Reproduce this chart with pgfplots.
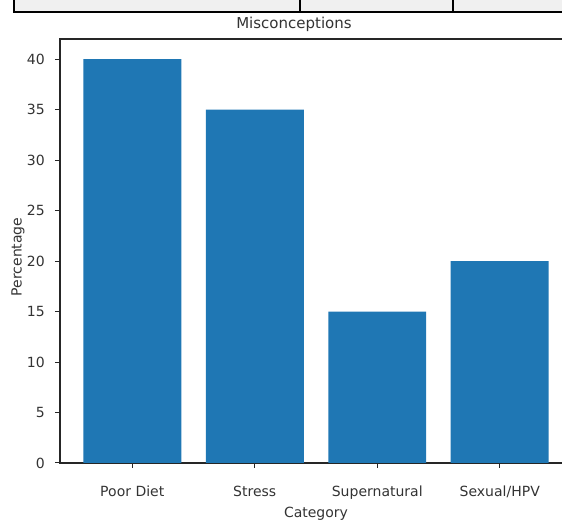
\documentclass[border=0pt]{standalone}
\usepackage{pgfplots}
\pgfplotsset{compat=1.18}
\usepackage{fontspec}
\setmainfont{DejaVu Sans}
\definecolor{mplblue}{HTML}{1F77B4}
\definecolor{cellgray}{HTML}{F0F0F0}
\begin{document}
\begin{tikzpicture}[x=1pt,y=1pt]
\begin{scope}
\clip (0,0) rectangle (562,521);
% table border remnant at the top
\fill[cellgray] (14,509) rectangle (570,521);
\draw[black,line width=1.3pt] (14,521) -- (14,509) -- (570,509);
\draw[black,line width=1.3pt] (300,509) -- (300,521);
\draw[black,line width=1.3pt] (453,509) -- (453,521);
\begin{axis}[
  at={(60pt,58pt)}, anchor=south west,
  scale only axis, width=512pt, height=424pt,
  xmin=-0.59, xmax=3.59, ymin=0, ymax=42,
  xtick={0,1,2,3},
  xticklabels={Poor Diet,Stress,Supernatural,Sexual/HPV},
  ytick={0,5,10,15,20,25,30,35,40},
  tick align=outside, tick pos=left,
  major tick length=5pt,
  every tick/.style={black!85,line width=1pt},
  axis line style={black!85,line width=1.1pt},
  /pgf/number format/assume math mode=true,
  tick label style={font=\fontsize{14}{16}\selectfont, text=black!80},
  xticklabel style={anchor=north, inner sep=0pt, yshift=-18pt},
  yticklabel style={anchor=east, inner sep=0pt, xshift=-10pt},
  title={Misconceptions},
  title style={at={(axis description cs:0.457,1)}, anchor=center, yshift=9pt, font=\fontsize{15}{17}\selectfont, text=black!80},
  xlabel={Category},
  xlabel style={at={(axis description cs:0.5,0)}, anchor=center, yshift=-51pt, font=\fontsize{14}{16}\selectfont, text=black!80},
  ylabel={Percentage},
  ylabel style={at={(axis description cs:0,0.486)}, anchor=center, yshift=42pt, font=\fontsize{14}{16}\selectfont, text=black!80},
  clip=false,
]
\addplot[ybar, bar width=0.8, fill=mplblue, draw=none] coordinates {(0,40) (1,35) (2,15) (3,20)};
\end{axis}
\end{scope}
\pgfresetboundingbox
\useasboundingbox (0,0) rectangle (562,521);
\end{tikzpicture}
\end{document}
